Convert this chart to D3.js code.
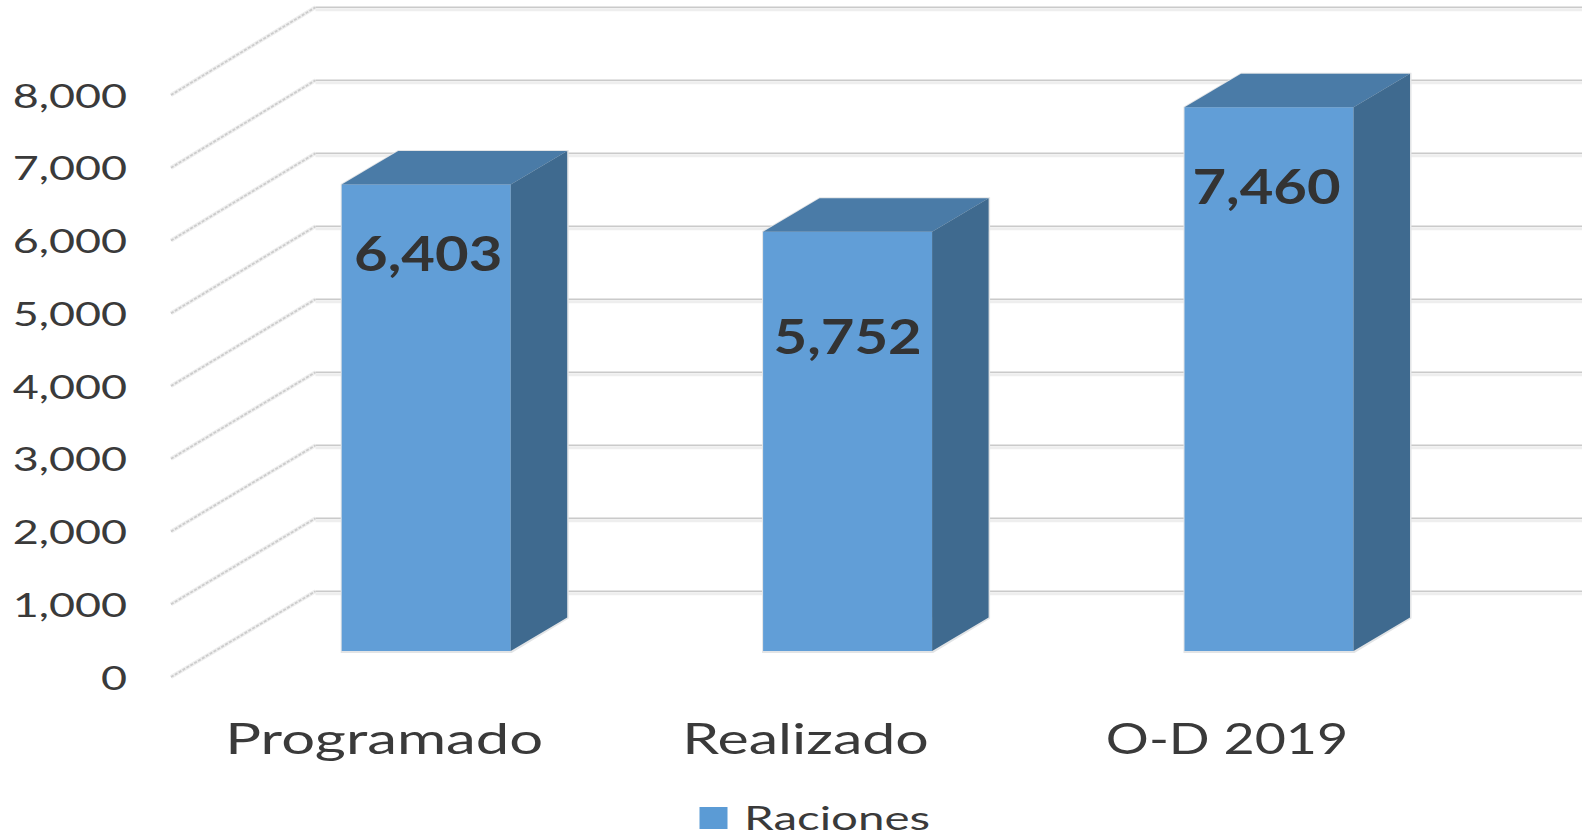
<!DOCTYPE html>
<html><head><meta charset="utf-8">
<script src="https://cdn.jsdelivr.net/npm/d3@7/dist/d3.min.js"></script>
<style>html,body{margin:0;padding:0;background:#fff;overflow:hidden}svg{display:block}text{font-family:Lato,"Open Sans",sans-serif}</style>
</head><body><svg id="c" width="1583" height="838"></svg>
<script>
const categories = ["Programado", "Realizado", "O-D 2019"];
const seriesName = "Raciones";
const values = [6403, 5752, 7460];
const yTicks = [0, 1000, 2000, 3000, 4000, 5000, 6000, 7000, 8000];
const labelOffsets = [70, 105, 80];
const labelNudges = [2, 0, -2.5];
const categoryStretch = [1.39, 1.375, 1.25];

const svg = d3.select("#c");
const W = 1583;
const yBack = d3.scaleLinear().domain([0, 8000]).range([591.3, 7.3]);
const yFront = d3.scaleLinear().domain([0, 8000]).range([677, 95]);
const yBar = d3.scaleLinear().domain([0, 8000]).range([651, 68]);
const x = d3.scaleBand().domain(categories).range([215.5, 1479.7]).paddingInner(0.6).paddingOuter(0.3);
const backX = 315.5, frontX = 171, dx = 56.5, dy = 33.5;
const bw = 169;
const cx = c => x(c) + x.bandwidth() / 2;

// walls
svg.append("g").selectAll("line.shadow").data(yTicks).join("line")
  .attr("x1", backX).attr("x2", W - 1).attr("y1", d => yBack(d) + 2.5).attr("y2", d => yBack(d) + 2.5)
  .attr("stroke", "#eeeeee").attr("stroke-width", 3);
svg.append("g").selectAll("line").data(yTicks).join("line")
  .attr("x1", backX).attr("x2", W - 1).attr("y1", d => yBack(d)).attr("y2", d => yBack(d))
  .attr("stroke", "#cacaca").attr("stroke-width", 1.5);
const diag = svg.append("g");
diag.selectAll("line.a").data(yTicks).join("line").attr("class", "a")
  .attr("x1", frontX).attr("x2", backX).attr("y1", d => yFront(d)).attr("y2", d => yBack(d))
  .attr("stroke", "#efefef").attr("stroke-width", 4);
diag.selectAll("line.b").data(yTicks).join("line").attr("class", "b")
  .attr("x1", frontX).attr("x2", backX).attr("y1", d => yFront(d)).attr("y2", d => yBack(d))
  .attr("stroke", "#cccccc").attr("stroke-width", 1.8).attr("stroke-dasharray", "3 1.5");

// bars
const bars = svg.append("g").selectAll("g").data(categories.map((c, i) => ({c, v: values[i], off: labelOffsets[i], nudge: labelNudges[i]}))).join("g");
const pts = a => a.map(p => p.join(",")).join(" ");
bars.append("polygon").attr("fill", "#e2e4e6").attr("points", d => {
  const l = cx(d.c) - bw / 2, r = l + bw, t = yBar(d.v), b = yBar(0);
  return pts([[l - 1, t - 0.5], [l + dx, t - dy - 1], [r + dx + 1.5, t - dy - 1], [r + dx + 1.5, b - dy + 1], [r + 1, b + 2], [l - 1, b + 2]]);
});
bars.append("polygon").attr("fill", "#619ed7").attr("points", d => {
  const l = cx(d.c) - bw / 2, r = l + bw, t = yBar(d.v), b = yBar(0);
  return pts([[l, t], [r, t], [r, b], [l, b]]);
});
bars.append("polygon").attr("fill", "#4a7ba7").attr("points", d => {
  const l = cx(d.c) - bw / 2, r = l + bw, t = yBar(d.v);
  return pts([[l, t], [r, t], [r + dx, t - dy], [l + dx, t - dy]]);
});
bars.append("polygon").attr("fill", "#3f6a8f").attr("points", d => {
  const l = cx(d.c) - bw / 2, r = l + bw, t = yBar(d.v), b = yBar(0);
  return pts([[r, t], [r + dx, t - dy], [r + dx, b - dy], [r, b]]);
});
bars.append("text").attr("text-anchor", "middle").attr("font-weight", 700).attr("font-size", 47).attr("fill", "#333")
  .attr("transform", d => `translate(${cx(d.c) + d.nudge},${yBar(d.v) + d.off + 17}) scale(1.235,1)`)
  .text(d => d3.format(",")(d.v));

// value axis
const yAxis = svg.append("g").attr("transform", "translate(127,0)")
  .call(d3.axisLeft(yFront).tickValues(yTicks).tickFormat(d3.format(",")).tickSize(0).tickPadding(0));
yAxis.select(".domain").remove();
yAxis.selectAll("text").attr("x", 0).attr("dy", "0.36em").attr("font-size", 33.5).attr("fill", "#3a3a3a")
  .attr("font-family", "Lato").attr("transform", "scale(1.34,1)");

// category axis
const xAxis = svg.append("g").attr("transform", "translate(-42,754)")
  .call(d3.axisBottom(x).tickSize(0).tickPadding(0));
xAxis.select(".domain").remove();
xAxis.selectAll("text").attr("y", 0).attr("dy", 0).attr("font-size", 43).attr("fill", "#3a3a3a")
  .attr("font-family", "Lato").attr("transform", (d, i) => `scale(${categoryStretch[i]},1)`);

// legend
const lg = svg.append("g");
lg.append("rect").attr("x", 699.5).attr("y", 807).attr("width", 28).attr("height", 22).attr("fill", "#5b9bd5");
lg.append("text").attr("transform", "translate(744,830) scale(1.44,1)").attr("font-size", 33).attr("fill", "#3a3a3a").text(seriesName);
</script></body></html>
